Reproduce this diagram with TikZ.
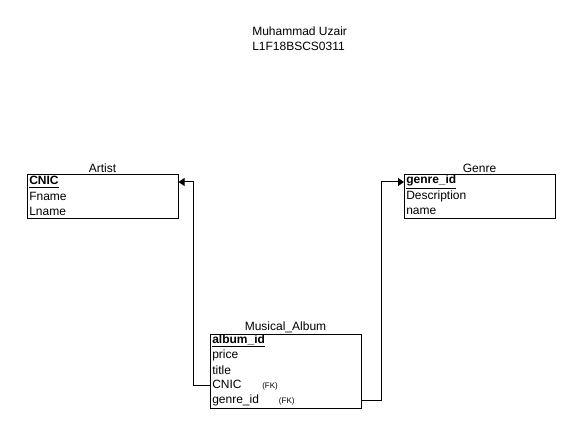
\documentclass[tikz,border=0pt]{standalone}
\usepackage{fontspec}
\setmainfont{Liberation Sans}
\usetikzlibrary{arrows.meta}
\newcommand{\fksmall}{\fontsize{6pt}{7pt}\selectfont}
\begin{document}
\begin{tikzpicture}[x=0.75pt,y=-0.75pt,
  tbl/.style={draw,line width=0.75pt,minimum width=151*0.75pt,minimum height=44*0.75pt,anchor=north west,inner sep=0pt},
  row/.style={anchor=west,minimum width=151*0.75pt,minimum height=15*0.75pt,inner sep=0pt,inner xsep=2*0.75pt,align=left,text width=147*0.75pt,font=\fontsize{9pt}{10pt}\selectfont},
  ttl/.style={anchor=south,inner sep=0pt,font=\fontsize{9pt}{10pt}\selectfont},
  conn/.style={line width=0.75pt,-{Triangle[length=4.5pt,width=6pt]}}]
\useasboundingbox (0,0) rectangle (581,434);
\node[anchor=north west,inner sep=0pt,align=left,font=\fontsize{9pt}{11pt}\selectfont] (author) at (252,27) {Muhammad Uzair\\L1F18BSCS0311};
% Artist
\node[tbl] (artist) at (27,174) {};
\node[ttl] (artistT) at (102.5,173) {Artist};
\node[row] (acnic) at (27,182) {\textbf{\underline{CNIC}}};
\node[row] (afname) at (27,196.5) {Fname};
\node[row] (alname) at (27,211) {Lname};
% Genre
\node[tbl] (genre) at (404,174) {};
\node[ttl] (genreT) at (479.5,173) {Genre};
\node[row] (gid) at (404,182) {\textbf{\underline{genre\_id}}};
\node[row] (gdesc) at (404,196.5) {Description};
\node[row] (gname) at (404,211) {name};
% Musical_Album
\node[tbl,minimum height=74*0.75pt] (album) at (210,334) {};
\node[ttl] (albumT) at (285.5,333) {Musical\_Album};
\node[row] (mid) at (210,341) {\textbf{\underline{album\_id}}};
\node[row] (mprice) at (210,355) {price};
\node[row] (mtitle) at (210,370) {title};
\node[row] (mcnic) at (210,385) {CNIC\hspace{15.5pt}{\fksmall(FK)}};
\node[row] (mgid) at (210,400) {genre\_id\hspace{15pt}{\fksmall(FK)}};
\coordinate (c1) at (193.5,385);
\coordinate (c2) at (381.5,400);
\draw[conn] (mcnic.west) -- (c1) |- (acnic.east);
\draw[conn] (mgid.east) -- (c2) |- (gid.west);
\end{tikzpicture}
\end{document}
